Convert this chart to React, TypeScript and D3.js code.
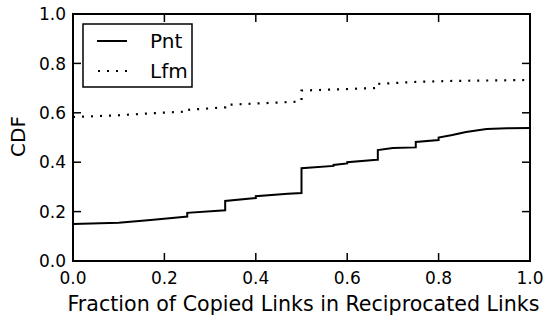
import React from 'react';
import * as d3 from 'd3';

// CDF curves (x = fraction, y = cumulative share)
const pntX = [0, 0.10, 0.17, 0.24, 0.25, 0.25, 0.333, 0.333, 0.40, 0.40, 0.47, 0.50, 0.50, 0.57, 0.57, 0.60, 0.60, 0.665, 0.667, 0.667, 0.70, 0.75, 0.75, 0.80, 0.80, 0.83, 0.86, 0.905, 0.95, 1.0];
const pntY = [0.15, 0.155, 0.166, 0.178, 0.18, 0.195, 0.205, 0.243, 0.255, 0.262, 0.272, 0.275, 0.376, 0.385, 0.389, 0.395, 0.40, 0.41, 0.41, 0.449, 0.457, 0.46, 0.482, 0.49, 0.50, 0.51, 0.522, 0.534, 0.537, 0.538];

const lfmX = [0, 0.10, 0.19, 0.25, 0.25, 0.333, 0.333, 0.49, 0.50, 0.50, 0.66, 0.667, 0.667, 0.75, 0.83, 1.0];
const lfmY = [0.583, 0.59, 0.60, 0.605, 0.612, 0.622, 0.632, 0.645, 0.648, 0.69, 0.70, 0.702, 0.717, 0.725, 0.729, 0.733];

const xTicks = [0, 0.2, 0.4, 0.6, 0.8, 1.0];
const yTicks = [0, 0.2, 0.4, 0.6, 0.8, 1.0];
const seriesNames = ['Pnt', 'Lfm'];

const W = 546;
const H = 315;
const margin = { left: 73, right: 16, top: 14, bottom: 54 };
const FONT = 'DejaVu Sans, sans-serif';

export default function App() {
  const x = d3.scaleLinear().domain([0, 1]).range([margin.left, W - margin.right]);
  const y = d3.scaleLinear().domain([0, 1]).range([H - margin.bottom, margin.top]);

  const pathFor = (xs: number[], ys: number[]) =>
    d3.line<number>().x(d => x(xs[d])).y(d => y(ys[d]))(d3.range(xs.length)) || '';

  const [x0, x1] = x.range();
  const [y0, y1] = y.range();
  const tickLen = 8;

  return (
    <div style={{ position: 'absolute', left: 0, top: 0 }}>
      <svg width={W} height={H} style={{ display: 'block', background: '#fff' }} fontFamily={FONT}>
        {/* curves */}
        <path d={pathFor(pntX, pntY)} fill="none" stroke="#000" strokeWidth={2} />
        <path d={pathFor(lfmX, lfmY)} fill="none" stroke="#000" strokeWidth={2.2} strokeDasharray="2,7" />

        {/* ticks, inward on all sides */}
        {xTicks.map(t => (
          <g key={'x' + t}>
            <line x1={x(t)} x2={x(t)} y1={y0} y2={y0 - tickLen} stroke="#000" strokeWidth={1.5} />
            <line x1={x(t)} x2={x(t)} y1={y1} y2={y1 + tickLen} stroke="#000" strokeWidth={1.5} />
            <text x={x(t)} y={y0 + 23} fontSize={17} textAnchor="middle">{t.toFixed(1)}</text>
          </g>
        ))}
        {yTicks.map(t => (
          <g key={'y' + t}>
            <line x1={x0} x2={x0 + tickLen} y1={y(t)} y2={y(t)} stroke="#000" strokeWidth={1.5} />
            <line x1={x1} x2={x1 - tickLen} y1={y(t)} y2={y(t)} stroke="#000" strokeWidth={1.5} />
            <text x={x0 - 7} y={y(t)} dy="0.36em" fontSize={17} textAnchor="end">{t.toFixed(1)}</text>
          </g>
        ))}

        {/* frame */}
        <rect x={x0} y={y1} width={x1 - x0} height={y0 - y1} fill="none" stroke="#000" strokeWidth={2} />

        {/* legend */}
        <rect x={83} y={24} width={109} height={63} fill="#fff" stroke="#000" strokeWidth={1.5} />
        <line x1={97} x2={127} y1={41} y2={41} stroke="#000" strokeWidth={2} />
        <line x1={98} x2={128} y1={71} y2={71} stroke="#000" strokeWidth={2.2} strokeDasharray="2,7" />
        <text x={150} y={48} fontSize={20}>{seriesNames[0]}</text>
        <text x={150} y={78} fontSize={20}>{seriesNames[1]}</text>

        {/* axis titles */}
        <text x={(x0 + x1) / 2 + 2} y={311} fontSize={20.6} textAnchor="middle">Fraction of Copied Links in Reciprocated Links</text>
        <text transform={`translate(25,${(y0 + y1) / 2 - 1}) rotate(-90)`} fontSize={20} textAnchor="middle">CDF</text>
      </svg>
    </div>
  );
}
